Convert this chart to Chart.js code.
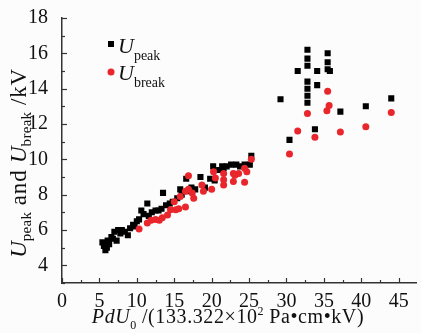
<!DOCTYPE html>
<html><head><meta charset="utf-8">
<script src="https://cdn.jsdelivr.net/npm/chart.js@4"></script>
<style>html,body{margin:0;padding:0;background:#fcfcfc}</style>
</head><body>
<canvas id="c" width="421" height="333" style="width:421px;height:333px;display:block"></canvas>
<script>
// ---- data ----
const peakX = [5.4,5.6,5.8,6.0,6.1,6.3,6.6,6.8,7.0,7.3,7.5,7.8,8.0,8.4,8.8,9.1,9.5,9.7,10.0,10.3,10.6,10.9,11.4,11.6,12.0,12.5,12.9,13.3,13.5,13.9,14.4,14.8,15.4,15.8,16.0,16.6,16.8,17.3,17.8,18.5,19.1,19.8,20.2,20.4,21.0,21.4,21.6,22.0,22.6,23.3,23.8,24.4,25.1,25.3,
  29.2,30.4,31.5,32.8,32.8,32.8,32.8,32.8,32.8,32.8,33.8,34.1,34.1,35.5,35.5,35.5,35.8,37.2,40.6,44.0];
const peakY = [5.3,5.1,4.85,5.0,5.4,5.2,5.6,5.5,5.9,5.4,6.0,5.8,6.0,5.9,5.7,6.1,6.3,6.2,6.5,6.6,7.1,6.9,7.5,6.8,7.0,7.1,7.1,7.2,8.1,7.4,7.5,7.6,7.8,8.3,8.0,8.9,8.2,8.4,8.3,9.0,8.4,8.9,9.6,8.8,9.4,9.6,9.5,9.6,9.7,9.7,9.6,9.7,9.7,10.2,
  13.4,11.1,15.0,16.2,15.7,15.3,14.4,14.0,13.6,13.2,11.7,15.0,14.2,16.0,15.5,15.1,15.0,12.7,13.0,13.45];
const breakX = [10.3,11.4,11.9,12.5,13.0,13.4,14.1,14.5,15.0,15.2,15.6,15.8,16.5,16.5,16.9,16.9,17.4,17.6,18.7,18.9,20.0,20.25,20.5,21.6,21.6,21.6,22.9,22.9,23.1,23.6,24.4,24.7,24.4,25.3,
  30.4,31.5,32.8,33.8,35.4,35.7,35.5,37.2,40.6,44.0];
const breakY = [6.05,6.4,6.55,6.6,6.55,6.7,6.85,7.15,7.6,7.15,7.2,7.9,7.3,8.2,9.07,8.3,8.1,7.8,8.55,8.2,8.3,9.3,8.95,9.2,8.85,8.55,9.2,8.75,9.1,9.2,9.5,9.3,8.7,10.0,
  10.3,11.6,12.6,11.25,12.75,13.05,13.85,11.55,11.85,12.65];
const xTickLabels = [0,5,10,15,20,25,30,35,40,45];
const yTickLabels = [4,6,8,10,12,14,16,18];

const SERIF = '"Liberation Serif","Times New Roman",serif';
const pts = (xs, ys) => xs.map((x, i) => ({x, y: ys[i]}));

function setFont(ctx, p) {
  ctx.font = (p.italic ? 'italic ' : '') + p.size + 'px ' + SERIF;
  ctx.letterSpacing = (p.ls || 0) + 'px';
}
function richWidth(ctx, parts) {
  let w = 0;
  for (const p of parts) { setFont(ctx, p); w += ctx.measureText(p.t).width; }
  ctx.letterSpacing = '0px';
  return w;
}
function drawRich(ctx, parts) {
  let x = 0;
  for (const p of parts) {
    setFont(ctx, p);
    ctx.fillText(p.t, x, p.dy || 0);
    x += ctx.measureText(p.t).width;
  }
  ctx.letterSpacing = '0px';
}

const decor = {
  id: 'decor',
  beforeDraw(chart) {
    const ctx = chart.ctx;
    ctx.save();
    ctx.fillStyle = '#fcfcfc';
    ctx.fillRect(0, 0, chart.width, chart.height);
    ctx.restore();
  },
  afterDraw(chart) {
    const ctx = chart.ctx, xs = chart.scales.x, ys = chart.scales.y, a = chart.chartArea;
    ctx.save();
    ctx.strokeStyle = '#333';
    ctx.lineWidth = 1.2;
    // inward ticks
    for (let v = 0; v <= 47; v += 2.5) {
      const px = Math.round(xs.getPixelForValue(v)) + 0.5;
      const len = (v % 5 === 0) ? 5 : 3;
      ctx.beginPath(); ctx.moveTo(px, a.bottom); ctx.lineTo(px, a.bottom - len); ctx.stroke();
    }
    for (let v = 3; v <= 18; v += 1) {
      const py = Math.round(ys.getPixelForValue(v)) + 0.5;
      const len = (v % 2 === 0) ? 5 : 3;
      ctx.beginPath(); ctx.moveTo(a.left, py); ctx.lineTo(a.left + len, py); ctx.stroke();
    }
    ctx.fillStyle = '#111';
    ctx.textBaseline = 'alphabetic';
    // x title
    const xt = [
      {t:'PdU', italic:true, size:20, ls:0.6},
      {t:'0', size:12, dy:6},
      {t:' /(133.322\u00d710', size:20, ls:0.6},
      {t:'2', size:12, dy:-8},
      {t:' Pa\u2022cm\u2022kV)', size:20, ls:0.6}
    ];
    ctx.save();
    ctx.translate(228 - richWidth(ctx, xt) / 2, 323);
    drawRich(ctx, xt);
    ctx.restore();
    // y title
    const yt = [
      {t:'U', italic:true, size:23},
      {t:'peak', size:15, dy:5, ls:0.3},
      {t:' and ', size:23, ls:0.8},
      {t:'U', italic:true, size:23},
      {t:'break', size:15, dy:5, ls:0.3},
      {t:' /kV', size:23, ls:0.8}
    ];
    ctx.save();
    ctx.translate(26, 163 + richWidth(ctx, yt) / 2);
    ctx.rotate(-Math.PI / 2);
    drawRich(ctx, yt);
    ctx.restore();
    // legend
    ctx.fillStyle = '#000';
    ctx.fillRect(108, 41, 6, 6);
    ctx.fillStyle = '#e8262b';
    ctx.beginPath(); ctx.arc(111, 72, 3.5, 0, Math.PI * 2); ctx.fill();
    ctx.fillStyle = '#111';
    ctx.save(); ctx.translate(118, 53);
    drawRich(ctx, [{t:'U', italic:true, size:22}, {t:'peak', size:14, dy:7}]);
    ctx.restore();
    ctx.save(); ctx.translate(118, 80);
    drawRich(ctx, [{t:'U', italic:true, size:22}, {t:'break', size:14, dy:7}]);
    ctx.restore();
    ctx.restore();
  }
};

new Chart(document.getElementById('c'), {
  type: 'scatter',
  data: {
    datasets: [
      {label: 'U_break', data: pts(breakX, breakY), order: 0,
       pointStyle: 'circle', pointRadius: 3.5, backgroundColor: '#e8262b', borderWidth: 0},
      {label: 'U_peak', data: pts(peakX, peakY), order: 1,
       pointStyle: 'rect', pointRadius: 4.3, backgroundColor: '#000', borderWidth: 0}
    ]
  },
  options: {
    responsive: false,
    animation: false,
    devicePixelRatio: 1,
    layout: {padding: {top: 18, right: 1, left: 0, bottom: 0}},
    plugins: {legend: {display: false}, tooltip: {enabled: false}},
    scales: {
      x: {
        type: 'linear', min: 0, max: 47.4,
        afterBuildTicks: s => { s.ticks = xTickLabels.map(v => ({value: v})); },
        afterFit: s => { s.height = 50; },
        grid: {display: false},
        border: {display: true, color: '#333', width: 1.5},
        ticks: {color: '#111', padding: 1, font: {family: SERIF, size: 20, lineHeight: 1}, maxRotation: 0}
      },
      y: {
        type: 'linear', min: 3, max: 18,
        afterBuildTicks: s => { s.ticks = yTickLabels.map(v => ({value: v})); },
        afterFit: s => { s.width = 62; },
        grid: {display: false},
        border: {display: true, color: '#333', width: 1.5},
        ticks: {color: '#111', padding: 6, font: {family: SERIF, size: 20}}
      }
    }
  },
  plugins: [decor]
});
</script>
</body></html>
